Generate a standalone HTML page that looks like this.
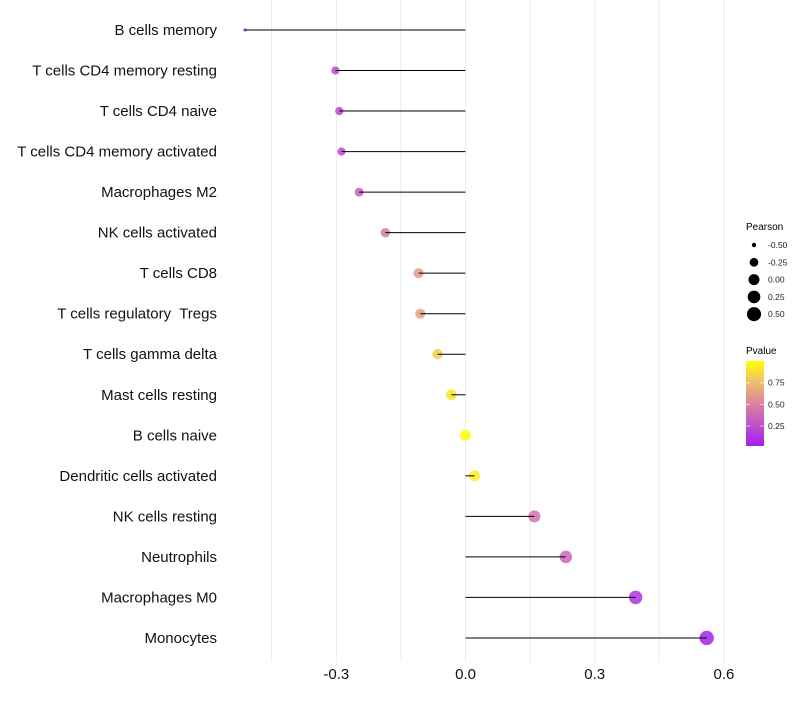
<!DOCTYPE html>
<html><head><meta charset="utf-8"><style>
body{margin:0;background:#fff;font-family:"Liberation Sans",sans-serif}
</style></head><body>
<svg id="chart" width="800" height="700" xmlns="http://www.w3.org/2000/svg">
<defs>
<linearGradient id="pg" x1="0" y1="1" x2="0" y2="0">
<stop offset="0" stop-color="#a020f0"/><stop offset="0.5" stop-color="#dc82a0"/><stop offset="0.75" stop-color="#f0be6e"/><stop offset="1" stop-color="#ffff00"/>
</linearGradient>
</defs>
<g id="grid"></g>
<g id="marks"></g>
<g id="labels"></g>
<g font-size="9">
<text x="746" y="230" font-size="10">Pearson</text>
<g id="sizeleg"></g>
<text x="746" y="354" font-size="10">Pvalue</text>
<rect x="746" y="361" width="18" height="85" fill="url(#pg)"/>
<g id="cbticks"></g>
</g>
</svg>
<script>
const categories=["B cells memory","T cells CD4 memory resting","T cells CD4 naive","T cells CD4 memory activated","Macrophages M2","NK cells activated","T cells CD8","T cells regulatory  Tregs","T cells gamma delta","Mast cells resting","B cells naive","Dendritic cells activated","NK cells resting","Neutrophils","Macrophages M0","Monocytes"];
const pearson=[-0.512,-0.302,-0.293,-0.288,-0.247,-0.186,-0.109,-0.105,-0.065,-0.033,0.0,0.021,0.160,0.233,0.395,0.560];
const pvalue=[0.03,0.2,0.2,0.22,0.3,0.45,0.6,0.62,0.8,0.9,0.99,0.93,0.42,0.35,0.1,0.02];
const xTicks=[-0.3,0,0.3,0.6];
const xTickLabels=["-0.3","0.0","0.3","0.6"];
const sizeLegend=[-0.5,-0.25,0,0.25,0.5];
const sizeLegendLabels=["-0.50","-0.25","0.00","0.25","0.50"];
const cbTicks=[0.25,0.5,0.75];
const cbLabels=["0.25","0.50","0.75"];
const NS="http://www.w3.org/2000/svg";
const x=v=>465.5+v*430.7;
const y=i=>30+i*40.53;
const pMin=Math.min(...pearson),pMax=Math.max(...pearson);
const r=p=>1.6+5.6*Math.sqrt(Math.max(0,(p-pMin)/(pMax-pMin)));
const stops=[[0,[160,32,240]],[0.5,[220,130,160]],[0.75,[240,190,110]],[1,[255,255,0]]];
function col(p){for(let k=1;k<stops.length;k++){if(p<=stops[k][0]){const a=stops[k-1],b=stops[k];const t=(p-a[0])/(b[0]-a[0]);return `rgb(${a[1].map((c,j)=>Math.round(c+(b[1][j]-c)*t)).join(',')})`;}}return 'rgb(255,255,0)';}
function mk(t,a,parent){const e=document.createElementNS(NS,t);for(const k in a)e.setAttribute(k,a[k]);parent.appendChild(e);return e;}
const grid=document.getElementById('grid'),marks=document.getElementById('marks'),labels=document.getElementById('labels');
for(let v=-0.45;v<=0.61;v+=0.15){const g=mk('line',{x1:x(v),x2:x(v),y1:0,y2:662,stroke:'#ebebeb','stroke-width':1},grid);}
xTicks.forEach((v,i)=>{const t=mk('text',{x:x(v),y:679,'text-anchor':'middle','font-size':15,fill:'#111'},labels);t.textContent=xTickLabels[i];});
categories.forEach((c,i)=>{
const t=mk('text',{x:217,y:y(i)+5,'text-anchor':'end','font-size':15,fill:'#111',style:'white-space:pre'},labels);t.textContent=c;


const d=mk('circle',{cx:x(pearson[i]),cy:y(i),r:r(pearson[i]),fill:col(pvalue[i]),'fill-opacity':0.85},marks);


const l=mk('line',{x1:x(0),x2:x(pearson[i]),y1:y(i),y2:y(i),stroke:'#000','stroke-width':1},marks);


});
const sl=document.getElementById('sizeleg');
sizeLegend.forEach((p,i)=>{const yy=245+i*17.3;
const c=mk('circle',{cx:754,cy:yy,r:r(p),fill:'#000'},sl);


const t=mk('text',{x:768,y:yy+3,'font-size':8.5,fill:'#222'},sl);t.textContent=sizeLegendLabels[i];

});
const cb=document.getElementById('cbticks');
cbTicks.forEach((v,i)=>{const yy=446-(v-0.02)/0.98*85;
mk('line',{x1:746,x2:750,y1:yy,y2:yy,stroke:'#fff','stroke-opacity':0.6},cb);
mk('line',{x1:760,x2:764,y1:yy,y2:yy,stroke:'#fff','stroke-opacity':0.6},cb);
const t=mk('text',{x:768,y:yy+3,'font-size':8.5,fill:'#222'},cb);t.textContent=cbLabels[i];

});
</script>
</body></html>
